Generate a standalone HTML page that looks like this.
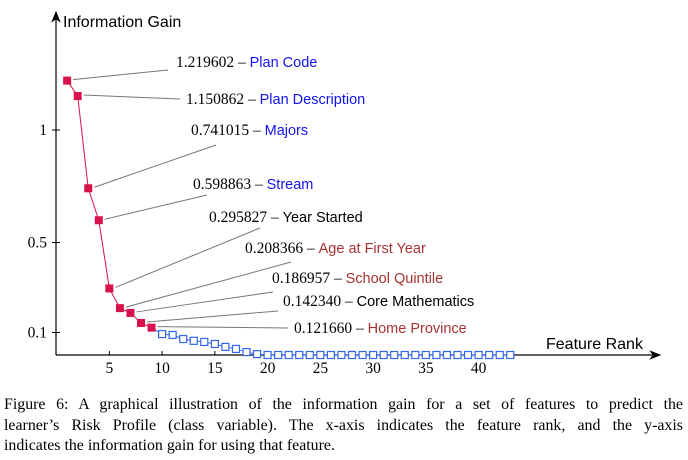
<!DOCTYPE html>
<html><head><meta charset="utf-8"><style>
body{margin:0;background:#fff;width:688px;height:460px;overflow:hidden}
svg{position:absolute;left:0;top:0}
.cap{position:absolute;left:4px;top:395px;width:679px;font-family:"Liberation Serif",serif;font-size:15.9px;line-height:20.5px;color:#000}
.cap div{white-space:nowrap;text-align:justify;text-align-last:justify}
.cap div.last{text-align-last:left}
</style></head><body>
<svg width="688" height="460">
<defs><marker id="ar" markerWidth="10" markerHeight="8" refX="9" refY="4" orient="auto"><path d="M0,0 L10,4 L0,8 L3,4 Z" fill="#000"/></marker></defs>
<g id="axes"></g><g id="leaders"></g><g id="series"></g><g id="labels"></g>
</svg>
<div class="cap"><div>Figure 6: A graphical illustration of the information gain for a set of features to predict the</div><div>learner’s Risk Profile (class variable). The x-axis indicates the feature rank, and the y-axis</div><div class="last">indicates the information gain for using that feature.</div></div>
<script>
const topValues=[1.219602,1.150862,0.741015,0.598863,0.295827,0.208366,0.186957,0.142340,0.121660];
const topNames=["Plan Code","Plan Description","Majors","Stream","Year Started","Age at First Year","School Quintile","Core Mathematics","Home Province"];
const topColors=["#1414f0","#1414f0","#1414f0","#1414f0","#000","#a83232","#a83232","#000","#a83232"];
const restValues=[0.093,0.089,0.071,0.063,0.058,0.049,0.036,0.027,0.013,0.004,0,0,0,0,0,0,0,0,0,0,0,0,0,0,0,0,0,0,0,0,0,0,0,0];
const xTicks=[5,10,15,20,25,30,35,40];
const yTicks=[0.1,0.5,1];
const labelPos=[[176,62,168,70],[186,99,180,99],[191,130,216,145],[193,184,207,195],[209,217,260,228],[245,248,291,262],[272,278,273,292],[283,301,278,311],[294,328,288,328]];
const X=r=>56.6+r*10.55, Y=v=>355-v*225;
const NS="http://www.w3.org/2000/svg";
function mk(tag,parent,attrs){const e=document.createElementNS(NS,tag);for(const k in attrs)e.setAttribute(k,attrs[k]);document.getElementById(parent).appendChild(e);return e;}
let e;
e=mk("line","axes",{x1:56,y1:355,x2:660,y2:355,stroke:"#000","stroke-width":1.2,"marker-end":"url(#ar)"});


e=mk("line","axes",{x1:56,y1:355,x2:56,y2:12,stroke:"#000","stroke-width":1.2,"marker-end":"url(#ar)"});


e=mk("text","axes",{x:63,y:27,"font-family":"Liberation Sans, DejaVu Sans, sans-serif","font-size":16});e.textContent="Information Gain";


e=mk("text","axes",{x:546,y:349,"font-family":"Liberation Sans, DejaVu Sans, sans-serif","font-size":16});e.textContent="Feature Rank";


xTicks.forEach(t=>{mk("line","axes",{x1:X(t),y1:355,x2:X(t),y2:351,stroke:"#000"});
 e=mk("text","axes",{x:X(t),y:373,"text-anchor":"middle","font-family":"Liberation Serif, serif","font-size":15.5});e.textContent=t;
 
 });
yTicks.forEach(t=>{mk("line","axes",{x1:52,y1:Y(t),x2:60,y2:Y(t),stroke:"#000"});
 e=mk("text","axes",{x:47,y:Y(t)+5,"text-anchor":"end","font-family":"Liberation Serif, serif","font-size":15.5});e.textContent=t;
 
 });
let rp=restValues.map((v,i)=>X(i+topValues.length+1)+","+Y(v)).join(" ");
e=mk("polyline","series",{points:X(topValues.length)+","+Y(topValues[topValues.length-1])+" "+rp,fill:"none",stroke:"#3366ee","stroke-width":1});


e=mk("polyline","series",{points:topValues.map((v,i)=>X(i+1)+","+Y(v)).join(" "),fill:"none",stroke:"#d8114d","stroke-width":1});


restValues.forEach((v,i)=>{e=mk("rect","series",{x:X(i+topValues.length+1)-3.5,y:Y(v)-3.5,width:7,height:7,fill:"#fff",stroke:"#3366ee","stroke-width":1.2});
 
 });
topValues.forEach((v,i)=>{e=mk("rect","series",{x:X(i+1)-4,y:Y(v)-4,width:8,height:8,fill:"#d8114d"});
 
 
 const p=labelPos[i];
 mk("line","leaders",{x1:X(i+1)+6,y1:Y(v)-1,x2:p[2],y2:p[3],stroke:"#777","stroke-width":1});
 e=mk("text","labels",{x:p[0],y:p[1]+5,"font-size":15});
 
 
 const a=document.createElementNS(NS,"tspan");a.setAttribute("font-family","Liberation Serif, serif");a.setAttribute("font-size","15.5");a.textContent=v.toFixed(6)+" – ";e.appendChild(a);
 const b=document.createElementNS(NS,"tspan");b.setAttribute("font-family","Liberation Sans, DejaVu Sans, sans-serif");b.setAttribute("font-size","14.5");b.setAttribute("fill",topColors[i]);b.textContent=topNames[i];e.appendChild(b);});
</script>
</body></html>
